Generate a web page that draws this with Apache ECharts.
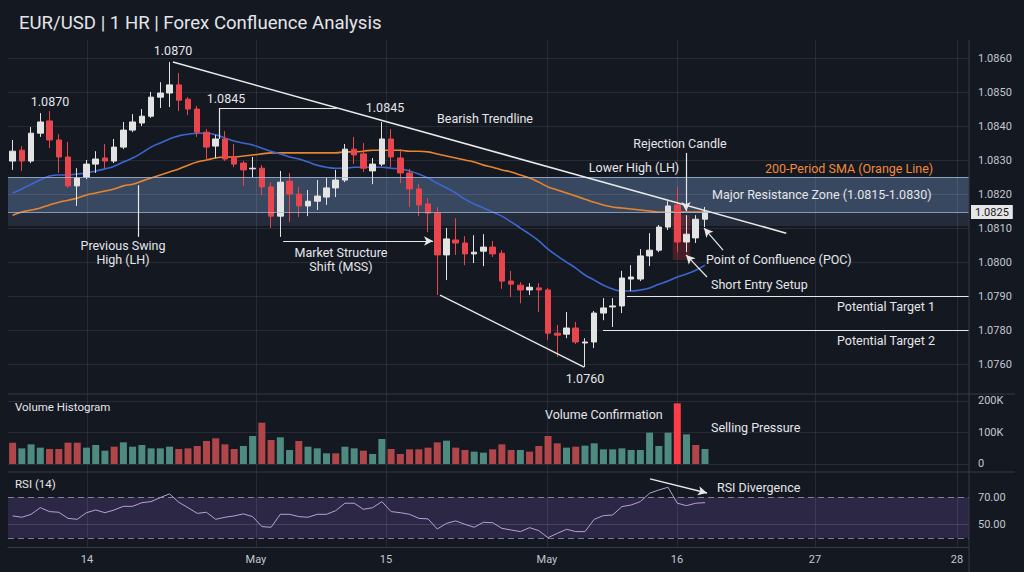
<!DOCTYPE html>
<html><head><meta charset="utf-8">
<script src="https://cdn.jsdelivr.net/npm/echarts@6/dist/echarts.min.js"></script>
<style>html,body{margin:0;padding:0;background:#141821;}#c{width:1024px;height:572px;}</style>
</head><body><div id="c"></div>
<script>
// ---- data ----
// candles: [open, close, low, high]
const ohlc = [
[1.08297,1.08326,1.08271,1.08359],[1.08329,1.08297,1.08268,1.08341],[1.08297,1.08379,1.08291,1.08397],
[1.08379,1.08412,1.08368,1.08438],[1.08415,1.08359,1.08335,1.08444],[1.08359,1.08309,1.08262,1.08376],
[1.08309,1.08224,1.08218,1.08353],[1.08224,1.08247,1.08165,1.08276],[1.08250,1.08288,1.08244,1.08300],
[1.08288,1.08303,1.08262,1.08326],[1.08306,1.08297,1.08276,1.08347],[1.08297,1.08338,1.08291,1.08362],
[1.08338,1.08388,1.08332,1.08412],[1.08388,1.08412,1.08382,1.08435],[1.08409,1.08429,1.08400,1.08450],
[1.08429,1.08485,1.08424,1.08500],[1.08485,1.08497,1.08453,1.08529],[1.08497,1.08521,1.08456,1.08588],
[1.08521,1.08476,1.08444,1.08556],[1.08479,1.08450,1.08432,1.08485],[1.08450,1.08382,1.08368,1.08459],
[1.08382,1.08338,1.08300,1.08391],[1.08341,1.08362,1.08306,1.08374],[1.08362,1.08303,1.08297,1.08385],
[1.08309,1.08288,1.08279,1.08347],[1.08291,1.08271,1.08224,1.08297],[1.08274,1.08276,1.08250,1.08309],
[1.08276,1.08221,1.08197,1.08285],[1.08221,1.08135,1.08100,1.08235],[1.08135,1.08235,1.08074,1.08268],
[1.08238,1.08200,1.08118,1.08262],[1.08200,1.08165,1.08132,1.08221],[1.08165,1.08179,1.08135,1.08212],
[1.08179,1.08194,1.08153,1.08241],[1.08191,1.08218,1.08168,1.08247],[1.08218,1.08241,1.08191,1.08271],
[1.08241,1.08332,1.08235,1.08347],[1.08332,1.08315,1.08288,1.08368],[1.08318,1.08276,1.08265,1.08350],
[1.08268,1.08288,1.08229,1.08306],[1.08288,1.08362,1.08282,1.08412],[1.08362,1.08309,1.08279,1.08391],
[1.08306,1.08262,1.08232,1.08332],[1.08262,1.08215,1.08162,1.08274],[1.08215,1.08168,1.08135,1.08229],
[1.08171,1.08144,1.08088,1.08188],[1.08144,1.08021,1.07903,1.08162],[1.08021,1.08068,1.07947,1.08100],
[1.08065,1.08056,1.08021,1.08129],[1.08056,1.08024,1.07991,1.08076],[1.08024,1.08029,1.07997,1.08079],
[1.08032,1.08044,1.07988,1.08082],[1.08044,1.08024,1.08015,1.08062],[1.08026,1.07944,1.07921,1.08035],
[1.07944,1.07935,1.07897,1.07974],[1.07932,1.07918,1.07879,1.07941],[1.07918,1.07926,1.07903,1.07938],
[1.07924,1.07918,1.07853,1.07938],[1.07918,1.07791,1.07771,1.07924],[1.07791,1.07785,1.07721,1.07815],
[1.07788,1.07806,1.07776,1.07853],[1.07806,1.07765,1.07759,1.07824],[1.07762,1.07765,1.07691,1.07776],
[1.07765,1.07850,1.07747,1.07856],[1.07850,1.07865,1.07829,1.07894],[1.07868,1.07871,1.07809,1.07894],
[1.07871,1.07953,1.07850,1.07974],[1.07950,1.07956,1.07915,1.07991],[1.07950,1.08018,1.07944,1.08038],
[1.08018,1.08035,1.07988,1.08085],[1.08035,1.08103,1.08029,1.08109],[1.08103,1.08165,1.08094,1.08179],
[1.08168,1.08059,1.08029,1.08221],[1.08059,1.08082,1.08029,1.08138],[1.08071,1.08126,1.08056,1.08138],
[1.08126,1.08147,1.08103,1.08162]
];
const smaFast = [
1.08203,1.08215,1.08229,1.08241,1.08253,1.08256,1.08256,1.08259,1.08262,1.08268,
1.08274,1.08282,1.08294,1.08306,1.08321,1.08338,1.08350,1.08362,1.08371,1.08376,
1.08379,1.08379,1.08374,1.08365,1.08356,1.08350,1.08344,1.08335,1.08326,1.08318,
1.08309,1.08303,1.08294,1.08285,1.08279,1.08276,1.08276,1.08279,1.08279,1.08279,
1.08279,1.08276,1.08274,1.08268,1.08259,1.08247,1.08232,1.08218,1.08203,1.08185,
1.08171,1.08159,1.08147,1.08135,1.08118,1.08100,1.08082,1.08062,1.08038,1.08018,
1.08000,1.07982,1.07962,1.07947,1.07932,1.07921,1.07915,1.07915,1.07918,1.07924,
1.07935,1.07944,1.07956,1.07965,1.07976,1.07991];
const sma200 = [
1.08138,1.08147,1.08153,1.08159,1.08168,1.08176,1.08182,1.08188,1.08197,1.08203,
1.08209,1.08215,1.08224,1.08229,1.08238,1.08247,1.08256,1.08265,1.08274,1.08285,
1.08294,1.08300,1.08306,1.08309,1.08309,1.08312,1.08315,1.08318,1.08321,1.08321,
1.08321,1.08321,1.08321,1.08321,1.08321,1.08321,1.08324,1.08324,1.08326,1.08329,
1.08329,1.08329,1.08329,1.08326,1.08326,1.08324,1.08318,1.08312,1.08306,1.08300,
1.08294,1.08285,1.08279,1.08271,1.08265,1.08256,1.08247,1.08235,1.08221,1.08212,
1.08203,1.08194,1.08185,1.08176,1.08168,1.08162,1.08159,1.08156,1.08153,1.08150,
1.08147,1.08147,1.08147,1.08147,1.08147,1.08147];
// volume in thousands
const volume = [
67.7,49.7,62.4,51.9,47.6,47.6,67.7,67.7,51.9,60.3,
42.3,55.0,68.8,55.0,60.3,49.7,49.7,55.0,47.6,49.7,
57.1,73.0,81.5,62.4,47.6,57.1,88.9,131.2,76.2,84.7,
44.4,73.0,55.0,49.7,33.9,33.9,55.0,49.7,42.3,31.7,
79.4,47.6,31.7,46.6,46.6,51.9,68.8,74.1,51.9,44.4,
39.2,36.0,46.6,62.4,44.4,44.4,39.2,57.1,88.9,65.6,
51.9,55.0,58.2,65.6,46.6,46.6,49.7,44.4,44.4,99.5,
57.1,99.5,192.6,94.2,60.3,47.6];
// u = buying bar, d = selling bar, s = confirmation spike
const volumeDir = [
'd','u','u','u','d','d','d','d','u','u',
'u','d','u','u','u','u','u','u','d','d',
'd','d','d','d','d','u','u','d','d','u',
'u','d','u','u','u','d','u','u','d','u',
'u','d','d','d','d','d','d','u','d','d',
'u','u','d','d','d','u','d','d','d','d',
'u','d','u','u','u','u','u','u','u','u',
'u','u','s','u','d','u'];
const rsi = [
56.2,55.2,57.4,62.3,59.4,58.9,54.4,53.7,58.6,60.6,
58.6,60.6,63.3,63.3,66.0,66.8,69.8,72.5,66.3,62.3,
58.1,58.9,53.7,55.2,56.2,57.7,55.7,48.3,47.8,57.4,
57.4,55.7,55.2,57.4,57.4,60.1,65.6,65.6,61.1,62.3,
66.8,59.4,58.6,57.4,54.4,54.0,46.5,50.7,52.5,50.0,
47.8,51.5,51.2,47.0,45.8,44.6,47.5,45.3,40.1,43.3,
46.3,44.6,44.6,53.7,56.4,56.9,63.1,64.3,66.8,73.0,
75.4,77.4,65.6,63.8,65.6,66.0];
const yTickVals = [1.077,1.078,1.079,1.080,1.081,1.082,1.083,1.084,1.085,1.086];
const yTickText = ['1.0760','1.0780','1.0790','1.0800','1.0810','1.0820','1.0830','1.0840','1.0850','1.0860'];
const xTickPos = [8.05,26.36,40.44,57.88,71.97,86.92,102.3];
const xTickText = ['14','May','15','May','16','27','28'];
const volTickVals = [0,100,200];
const rsiTickVals = [50,70];
const lastPriceText = '1.0825';

// ---- chart ----
const FONT = 'Roboto, "Noto Sans", sans-serif';
const TXT = '#e4e6ea';
const AX = '#c3c7cf';
const GRIDC = 'rgba(255,255,255,0.085)';
const UP = '#e3e3e3', DN = '#e8454d';
const VUP = '#4f8a80', VDN = '#b0464a', VSP = '#ff3d48';
const XMIN = -0.5, XMAX = 103.6;

const lookup = (vals, texts) => v => {
  const i = vals.findIndex(t => Math.abs(t - v) < 1e-7);
  return i < 0 ? '' : texts[i];
};
const W = '#e8e8e8';
function seg(x1, y1, x2, y2, arrow, width) {
  const ls = {color: W, width: width || 1.2, type: 'solid'};
  return [
    {coord: [x1, y1], symbol: 'none', lineStyle: ls},
    {coord: [x2, y2], symbol: arrow ? 'arrow' : 'none', symbolSize: arrow ? [7, 9] : 0, lineStyle: ls}
  ];
}
const vGrid = xTickPos.map(x => ({xAxis: x}));
const mlBase = {silent: true, precision: 6, symbol: ['none', 'none'], label: {show: false}, emphasis: {disabled: true}, animation: false};

const candleData = ohlc.map((d, i) => [i, d[0], d[1], d[2], d[3]]);
const idxData = arr => arr.map((v, i) => [i, v]);
const volData = volume.map((v, i) => ({
  value: [i, v],
  itemStyle: {color: volumeDir[i] === 'u' ? VUP : (volumeDir[i] === 's' ? VSP : VDN)}
}));

function T(text, x, y, align, extra) {
  return {
    type: 'text', x: x, y: y, z: 100, silent: true,
    style: Object.assign({text: text, fill: TXT, fontSize: 12.5, fontFamily: FONT, align: align || 'center', verticalAlign: 'middle'}, (extra || {}))
  };
}
function L(x1, y1, x2, y2, color) {
  return {type: 'line', silent: true, z: 50, shape: {x1, y1, x2, y2}, style: {stroke: color || '#2e333e', lineWidth: 1}};
}

const chart = echarts.init(document.getElementById('c'), null, {renderer: 'svg', width: 1024, height: 572});
const graphics = [
  L(8, 394, 1015, 394, '#343945'),
  L(8, 472, 1015, 472, '#343945'),
  L(969, 40, 969, 572, '#363b47'),
  T('1.0870', 50, 101),
  T('1.0870', 173, 50),
  T('1.0845', 226, 98),
  T('1.0845', 385, 107),
  T('Bearish Trendline', 485, 118),
  T('Previous Swing', 123, 245),
  T('High (LH)', 123, 259),
  T('Market Structure', 341, 252),
  T('Shift (MSS)', 341, 266),
  T('1.0760', 585, 378),
  T('Lower High (LH)', 634, 167),
  T('Rejection Candle', 680, 143),
  T('200-Period SMA (Orange Line)', 765, 168, 'left', {fill: '#f08a3c'}),
  T('Major Resistance Zone (1.0815-1.0830)', 712, 194, 'left'),
  T('Point of Confluence (POC)', 706, 259, 'left'),
  T('Short Entry Setup', 711, 284, 'left'),
  T('Potential Target 1', 837, 306, 'left'),
  T('Potential Target 2', 837, 340, 'left'),
  T('Volume Histogram', 15, 407, 'left', {fontSize: 11.5}),
  T('Volume Confirmation', 545, 414, 'left'),
  T('Selling Pressure', 711, 427, 'left'),
  T('RSI (14)', 15, 484, 'left', {fontSize: 11.5}),
  T('RSI Divergence', 717, 487, 'left')
];
chart.setOption({
  animation: false,
  backgroundColor: '#141821',
  title: {text: 'EUR/USD | 1 HR | Forex Confluence Analysis', left: 14, top: 8,
    textStyle: {color: '#e3e5e9', fontSize: 18.6, fontWeight: 'normal', fontFamily: FONT}},
  grid: [
    {left: 8, right: 55, top: 40, height: 354},
    {left: 8, right: 55, top: 394, height: 78},
    {left: 8, right: 55, top: 472, height: 75}
  ],
  xAxis: [0, 1, 2].map(g => ({
    type: 'value', gridIndex: g, min: XMIN, max: XMAX,
    splitLine: {show: false}, axisTick: {show: false},
    axisLine: {show: g === 2, lineStyle: {color: '#363b47'}},
    axisLabel: g === 2 ? {customValues: xTickPos, formatter: lookup(xTickPos, xTickText),
      color: AX, fontSize: 11, margin: 7, fontFamily: FONT} : {show: false}
  })),
  yAxis: [
    {type: 'value', gridIndex: 0, position: 'right', min: 1.07612, max: 1.08653, scale: true,
      splitLine: {show: false}, axisTick: {show: false}, axisLine: {show: false},
      axisLabel: {customValues: yTickVals, formatter: lookup(yTickVals, yTickText), color: AX, fontSize: 11, margin: 9, fontFamily: FONT}},
    {type: 'value', gridIndex: 1, position: 'right', min: -25.4, max: 222.2,
      splitLine: {show: false}, axisTick: {show: false}, axisLine: {show: false},
      axisLabel: {customValues: volTickVals, formatter: v => (v === 0 ? '0' : v + 'K'), color: AX, fontSize: 11, margin: 9, fontFamily: FONT}},
    {type: 'value', gridIndex: 2, position: 'right', min: 33.2, max: 88.7,
      splitLine: {show: false}, axisTick: {show: false}, axisLine: {show: false},
      axisLabel: {customValues: rsiTickVals, formatter: v => v.toFixed(2), color: AX, fontSize: 11, margin: 9, fontFamily: FONT}}
  ],
  series: [
    {
      name: 'SMA200', type: 'line', xAxisIndex: 0, yAxisIndex: 0, data: idxData(sma200),
      showSymbol: false, smooth: true, z: 1, silent: true,
      lineStyle: {color: '#e8842f', width: 1.6},
      markLine: Object.assign({}, mlBase, {z: 1,
        lineStyle: {color: GRIDC, width: 1, type: 'solid'},
        data: vGrid.concat(yTickVals.map(v => ({yAxis: v})))})
    },
    {
      name: 'SMA', type: 'line', xAxisIndex: 0, yAxisIndex: 0, data: idxData(smaFast),
      showSymbol: false, smooth: true, z: 1, silent: true,
      lineStyle: {color: '#3d67d0', width: 1.6}
    },
    {
      name: 'EURUSD', type: 'candlestick', xAxisIndex: 0, yAxisIndex: 0,
      data: candleData, encode: {x: 0, y: [1, 2, 3, 4]}, barWidth: 6, z: 3,
      itemStyle: {color: UP, color0: DN, borderColor: UP, borderColor0: DN, borderWidth: 1},
      markArea: {silent: true, z: 1, label: {show: false}, emphasis: {disabled: true},
        data: [
          [{yAxis: 1.08250, itemStyle: {color: 'rgba(110,140,185,0.42)'}}, {yAxis: 1.08147}],
          [{yAxis: 1.08147, itemStyle: {color: 'rgba(95,115,150,0.22)'}}, {yAxis: 1.08106}],
          [{coord: [71.5, 1.08138], itemStyle: {color: 'rgba(200,45,60,0.28)'}}, {coord: [73.4, 1.08006]}]
        ]},
      markLine: Object.assign({}, mlBase, {z: 6,
        data: [
          {yAxis: 1.08250, lineStyle: {color: 'rgba(170,190,222,0.75)', width: 1, type: 'solid'}},
          {yAxis: 1.08147, lineStyle: {color: 'rgba(170,190,222,0.75)', width: 1, type: 'solid'}},
          seg(17.37, 1.08588, 83.8, 1.08085, false, 1.6),
          seg(22.35, 1.08453, 35.13, 1.08453, false, 1.2),
          seg(22.35, 1.08453, 22.35, 1.08362, false, 1.2),
          seg(13.57, 1.08226, 13.57, 1.08074, false, 1.2),
          seg(29.3, 1.08062, 45.54, 1.08062, true, 1.2),
          seg(46.3, 1.07903, 61.9, 1.07691, false, 1.4),
          seg(72.95, 1.08321, 72.95, 1.08150, true, 1.2),
          seg(76.96, 1.08035, 74.9, 1.08100, true, 1.2),
          seg(75.22, 1.07956, 72.95, 1.08021, true, 1.2),
          seg(66.55, 1.07900, XMAX, 1.07900, false, 1.2),
          seg(63.95, 1.07800, XMAX, 1.07800, false, 1.2)
        ]})
    },
    {
      name: 'Volume', type: 'bar', xAxisIndex: 1, yAxisIndex: 1, data: volData, barWidth: 7, z: 3, silent: true,
      markLine: Object.assign({}, mlBase, {z: 1, lineStyle: {color: GRIDC, width: 1, type: 'solid'},
        data: vGrid.concat(volTickVals.map(v => ({yAxis: v})))})
    },
    {
      name: 'RSI', type: 'line', xAxisIndex: 2, yAxisIndex: 2, data: idxData(rsi),
      showSymbol: false, z: 3, silent: true, lineStyle: {color: '#b5a2d6', width: 1},
      markArea: {silent: true, z: 1, emphasis: {disabled: true},
        data: [[{yAxis: 70, itemStyle: {color: 'rgba(100,70,150,0.32)'}}, {yAxis: 40}]]},
      markLine: Object.assign({}, mlBase, {z: 2,
        data: vGrid.map(d => Object.assign({lineStyle: {color: GRIDC, width: 1, type: 'solid'}}, d)).concat([
          {yAxis: 70, lineStyle: {color: 'rgba(205,205,225,0.55)', width: 1, type: [6, 4]}},
          {yAxis: 40, lineStyle: {color: 'rgba(205,205,225,0.55)', width: 1, type: [6, 4]}},
          {yAxis: 50, lineStyle: {color: 'rgba(255,255,255,0.12)', width: 1, type: 'solid'}},
          seg(69.05, 83.6, 75.22, 73.2, true, 1.4)
        ])})
    }
  ],
  graphic: graphics
});
// last-price tag on the price axis, placed through the axis scale
const lastClose = ohlc[ohlc.length - 1][1];
const tagY = chart.convertToPixel({yAxisIndex: 0}, lastClose);
graphics.push({
  type: 'text', x: 971, y: tagY, z: 120, silent: true,
  style: {text: lastPriceText, fill: '#15181f', fontSize: 11, fontFamily: FONT, align: 'left', verticalAlign: 'middle',
    backgroundColor: '#e6e6e6', padding: [2, 4, 1, 4]}
});
chart.setOption({graphic: graphics});
</script>
</body></html>
